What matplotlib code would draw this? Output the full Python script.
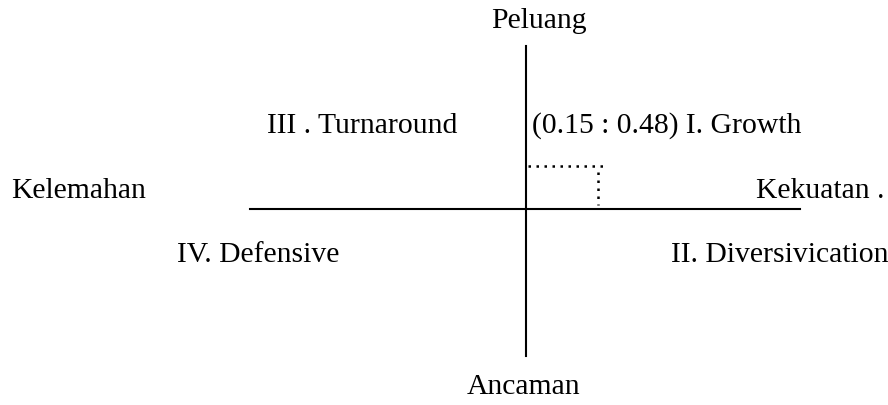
"""
Diagram kuadran SWOT (Peluang / Ancaman / Kekuatan / Kelemahan)
"""

import matplotlib.pyplot as plt

plt.rcParams['font.family'] = ['Liberation Serif', 'DejaVu Serif']

# axis extents (pixel-like units, y downwards)
origin = (526, 209)
h_axis = [250, 800]
v_axis = [46, 356]

# position marker for (0.15 : 0.48)
point_x = 600
point_y = 166
dot_h_end = 603
dot_v_end = 205

# label, left x, baseline y
labels = [
    ("Peluang", 491, 28),
    ("III . Turnaround", 267, 133),
    ("(0.15 : 0.48) I. Growth", 532, 133),
    ("Kelemahan", 11, 198),
    ("Kekuatan .", 756, 198),
    ("IV. Defensive", 177, 262),
    ("II. Diversivication", 671, 262),
    ("Ancaman", 467, 394),
]


def main():
    fig = plt.figure(figsize=(8.88, 4.05), dpi=100)
    ax = fig.add_axes([0, 0, 1, 1])
    ax.set_xlim(0, 888)
    ax.set_ylim(405, 0)
    ax.axis("off")

    ax.plot(h_axis, [origin[1], origin[1]], color="black", lw=1.5)
    ax.plot([origin[0], origin[0]], v_axis, color="black", lw=1.5)

    ax.plot([origin[0] + 2, dot_h_end], [point_y, point_y], color="black",
            lw=1.8, ls=(0, (1, 2.2)))
    ax.plot([point_x - 2, point_x - 2], [point_y + 6, dot_v_end], color="black",
            lw=1.8, ls=(0, (1, 2.2)))

    for txt, x, y in labels:
        ax.text(x, y, txt, fontsize=21.3, ha="left", va="baseline", color="black")

    fig.savefig("out.png", dpi=100)


if __name__ == '__main__':
    main()
